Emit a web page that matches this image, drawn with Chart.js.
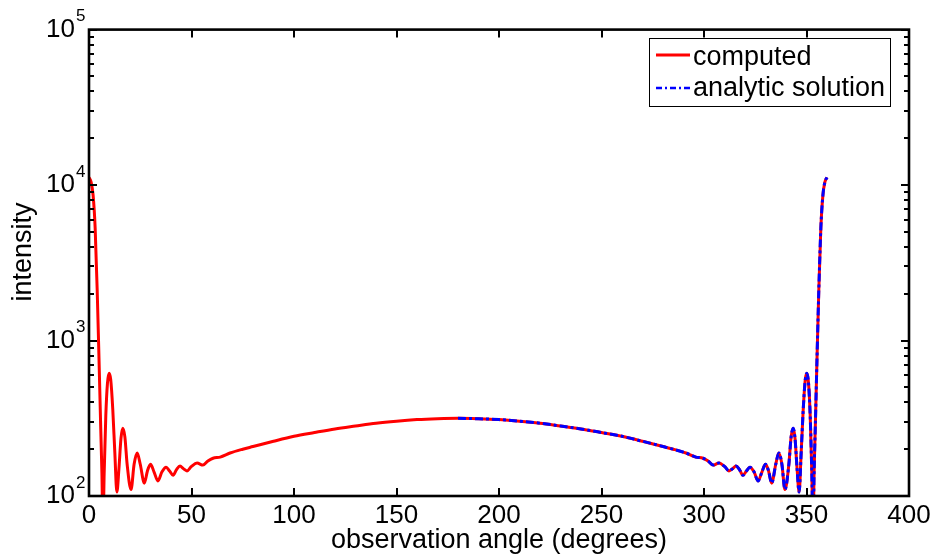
<!DOCTYPE html>
<html>
<head>
<meta charset="utf-8">
<script src="https://cdn.jsdelivr.net/npm/chart.js@4/dist/chart.umd.min.js"></script>
<style>
html,body{margin:0;padding:0;background:#fff;}
#wrap{width:935px;height:558px;position:relative;}
</style>
</head>
<body>
<div id="wrap"><canvas id="c" width="935" height="558"></canvas></div>
<script>
// ---- data ----
const computedAngles = [0,1,2,3,4,4.9,5.7,6.3,6.8,7.4,8.2,9.0,9.8,10.6,11.6,12.6,13.6,14.6,15.6,16.5,17.5,18.6,20.5,22,23.5,25,27,28.5,30,31.8,33.6,35.6,37.6,39.3,41,42.7,44.4,46,47.8,50,52.7,55.6,58,60.5,64,68.8,75,80,90,100,110,120,130,140,150,160,170,180,
  190,200,210,220,230,240,250,260,270,280,285,291.2,296,299.5,302,304.4,307.3,310,312.2,314,315.6,317.3,319,320.7,322.4,324.4,326.4,328.2,330,331.5,333,335,336.5,338,339.5,341.4,342.5,343.5,344.4,345.4,346.4,347.4,348.4,349.4,350.2,351,351.8,352.6,353.2,353.7,354.3,355.1,356,357,358,359,360];
const computedValues = [11200,10500,8600,5300,2100,745,280,140,60,140,330,530,616,560,360,190,106,150,235,273,240,160,110,160,189,160,121,145,160,142,125,143,153,145,136,148,156,150,145,155,163,158,168,175,178,189,200,208,225,242,256,270,282,294,303,310,314,316,
  314,310,303,294,282,270,256,242,225,208,200,189,178,175,168,158,163,155,145,150,156,148,136,145,153,143,125,142,160,145,121,160,189,160,110,160,240,273,235,150,106,190,360,560,616,530,330,140,60,140,280,745,2100,5300,8600,10500,11200];

const analyticAngles = [180,190,200,210,220,230,240,250,260,270,280,285,291.2,296,299.5,302,304.4,307.3,310,312.2,314,315.6,317.3,319,320.7,322.4,324.4,326.4,328.2,330,331.5,333,335,336.5,338,339.5,341.4,342.5,343.5,344.4,345.4,346.4,347.4,348.4,349.4,350.2,351,351.8,352.6,353.2,353.7,354.3,355.1,356,357,358,359,360];
const analyticValues = [316,314,310,303,294,282,270,256,242,225,208,200,189,178,175,168,158,163,155,145,150,156,148,136,145,153,143,125,142,160,145,121,160,189,160,110,160,240,273,235,150,106,190,360,560,616,530,330,140,60,140,280,745,2100,5300,8600,10500,11200];

const xTickValues = [0,50,100,150,200,250,300,350,400];
const yTickPowers = [2,3,4,5];
const seriesNames = ['computed','analytic solution'];
const xTitle = 'observation angle (degrees)';
const yTitle = 'intensity';

const FONT = '"Liberation Sans", Arial, Helvetica, sans-serif';
const BLUE_DASH = [8,3,3,3];

function pts(xs, ys){ return xs.map((a,i)=>({x:a, y:ys[i]})); }

const matlabPlugin = {
  id: 'matlabFrame',
  afterDraw(chart){
    const {ctx, chartArea: a, scales} = chart;
    const x = scales.x, y = scales.y;
    ctx.save();
    ctx.strokeStyle = '#000';
    ctx.lineCap = 'butt';
    // tick marks (inside, all four sides)
    ctx.lineWidth = 2;
    ctx.beginPath();
    xTickValues.forEach(v=>{
      const px = Math.round(x.getPixelForValue(v));
      ctx.moveTo(px, a.bottom); ctx.lineTo(px, a.bottom-8);
      ctx.moveTo(px, a.top); ctx.lineTo(px, a.top+8);
    });
    yTickPowers.forEach((p,i)=>{
      const py = Math.round(y.getPixelForValue(Math.pow(10,p)));
      ctx.moveTo(a.left, py); ctx.lineTo(a.left+8, py);
      ctx.moveTo(a.right, py); ctx.lineTo(a.right-8, py);
      if (i < yTickPowers.length-1){
        for (let k=2;k<=9;k++){
          const my = Math.round(y.getPixelForValue(k*Math.pow(10,p)));
          ctx.moveTo(a.left, my); ctx.lineTo(a.left+5, my);
          ctx.moveTo(a.right, my); ctx.lineTo(a.right-5, my);
        }
      }
    });
    ctx.stroke();
    // axes box
    ctx.lineWidth = 2.6;
    ctx.strokeRect(a.left, a.top, a.right-a.left, a.bottom-a.top);

    // exponents of the 10^n tick labels
    ctx.fillStyle = '#000';
    ctx.font = '17px ' + FONT;
    ctx.textAlign = 'left';
    ctx.textBaseline = 'middle';
    const ex = y.right - y.options.ticks.padding;
    yTickPowers.forEach(p=>{
      const py = y.getPixelForValue(Math.pow(10,p));
      ctx.fillText(String(p), ex + 1, py - 13);
    });

    // y title
    ctx.save();
    ctx.font = '27px ' + FONT;
    ctx.textAlign = 'center';
    ctx.textBaseline = 'middle';
    ctx.translate(24, 252);
    ctx.rotate(-Math.PI/2);
    ctx.fillText(yTitle, 0, 0);
    ctx.restore();

    // legend
    const lx = 649.5, ly = 38.5, lw = 241, lh = 68;
    ctx.fillStyle = '#fff';
    ctx.fillRect(lx, ly, lw, lh);
    ctx.lineWidth = 1;
    ctx.strokeStyle = '#000';
    ctx.strokeRect(lx, ly, lw, lh);
    const ds = chart.data.datasets;
    const rows = [{y:55, i:0, base:65}, {y:88, i:1, base:96}];
    rows.forEach(r=>{
      const d = ds[r.i];
      ctx.beginPath();
      ctx.strokeStyle = d.borderColor;
      ctx.lineWidth = r.i===0 ? 3 : 2.5;
      ctx.setLineDash(r.i===0 ? [] : [6,3,2,3]);
      ctx.moveTo(656, r.y); ctx.lineTo(690, r.y);
      ctx.stroke();
      ctx.setLineDash([]);
      ctx.fillStyle = '#000';
      ctx.font = '27px ' + FONT;
      ctx.textAlign = 'left';
      ctx.textBaseline = 'alphabetic';
      ctx.fillText(d.label, 693, r.base);
    });
    ctx.restore();
  }
};

new Chart(document.getElementById('c'), {
  type: 'line',
  data: {
    datasets: [
      {
        label: seriesNames[0],
        data: pts(computedAngles, computedValues),
        borderColor: '#ff0000',
        borderWidth: 3,
        pointRadius: 0,
        cubicInterpolationMode: 'monotone',
        fill: false,
        order: 2
      },
      {
        label: seriesNames[1],
        data: pts(analyticAngles, analyticValues),
        borderColor: '#0000ff',
        borderWidth: 3,
        borderDash: BLUE_DASH,
        pointRadius: 0,
        cubicInterpolationMode: 'monotone',
        fill: false,
        order: 1
      }
    ]
  },
  options: {
    responsive: false,
    animation: false,
    devicePixelRatio: 1,
    layout: { padding: { left: 0, right: 26, top: 28, bottom: 0 } },
    plugins: { legend: { display: false }, tooltip: { enabled: false } },
    scales: {
      x: {
        type: 'linear',
        min: 0, max: 400,
        grid: { display: false, drawTicks: false },
        border: { display: false },
        afterBuildTicks: s => { s.ticks = xTickValues.map(v=>({value:v})); },
        ticks: { color: '#000', padding: 4, maxRotation: 0, autoSkip: false, font: { family: FONT, size: 26 }, callback: v => String(v) },
        title: { display: true, text: xTitle, color: '#000', font: { family: FONT, size: 27 }, padding: { top: 0, bottom: 1 } },
        afterFit: s => { s.height = 62; }
      },
      y: {
        type: 'logarithmic',
        min: 100, max: 100000,
        grid: { display: false, drawTicks: false },
        border: { display: false },
        afterBuildTicks: s => { s.ticks = yTickPowers.map(p=>({value: Math.pow(10,p)})); },
        ticks: { color: '#000', padding: 14, autoSkip: false, font: { family: FONT, size: 26 }, callback: () => '10' },
        afterFit: s => { s.width = 89; }
      }
    }
  },
  plugins: [matlabPlugin]
});
</script>
</body>
</html>
